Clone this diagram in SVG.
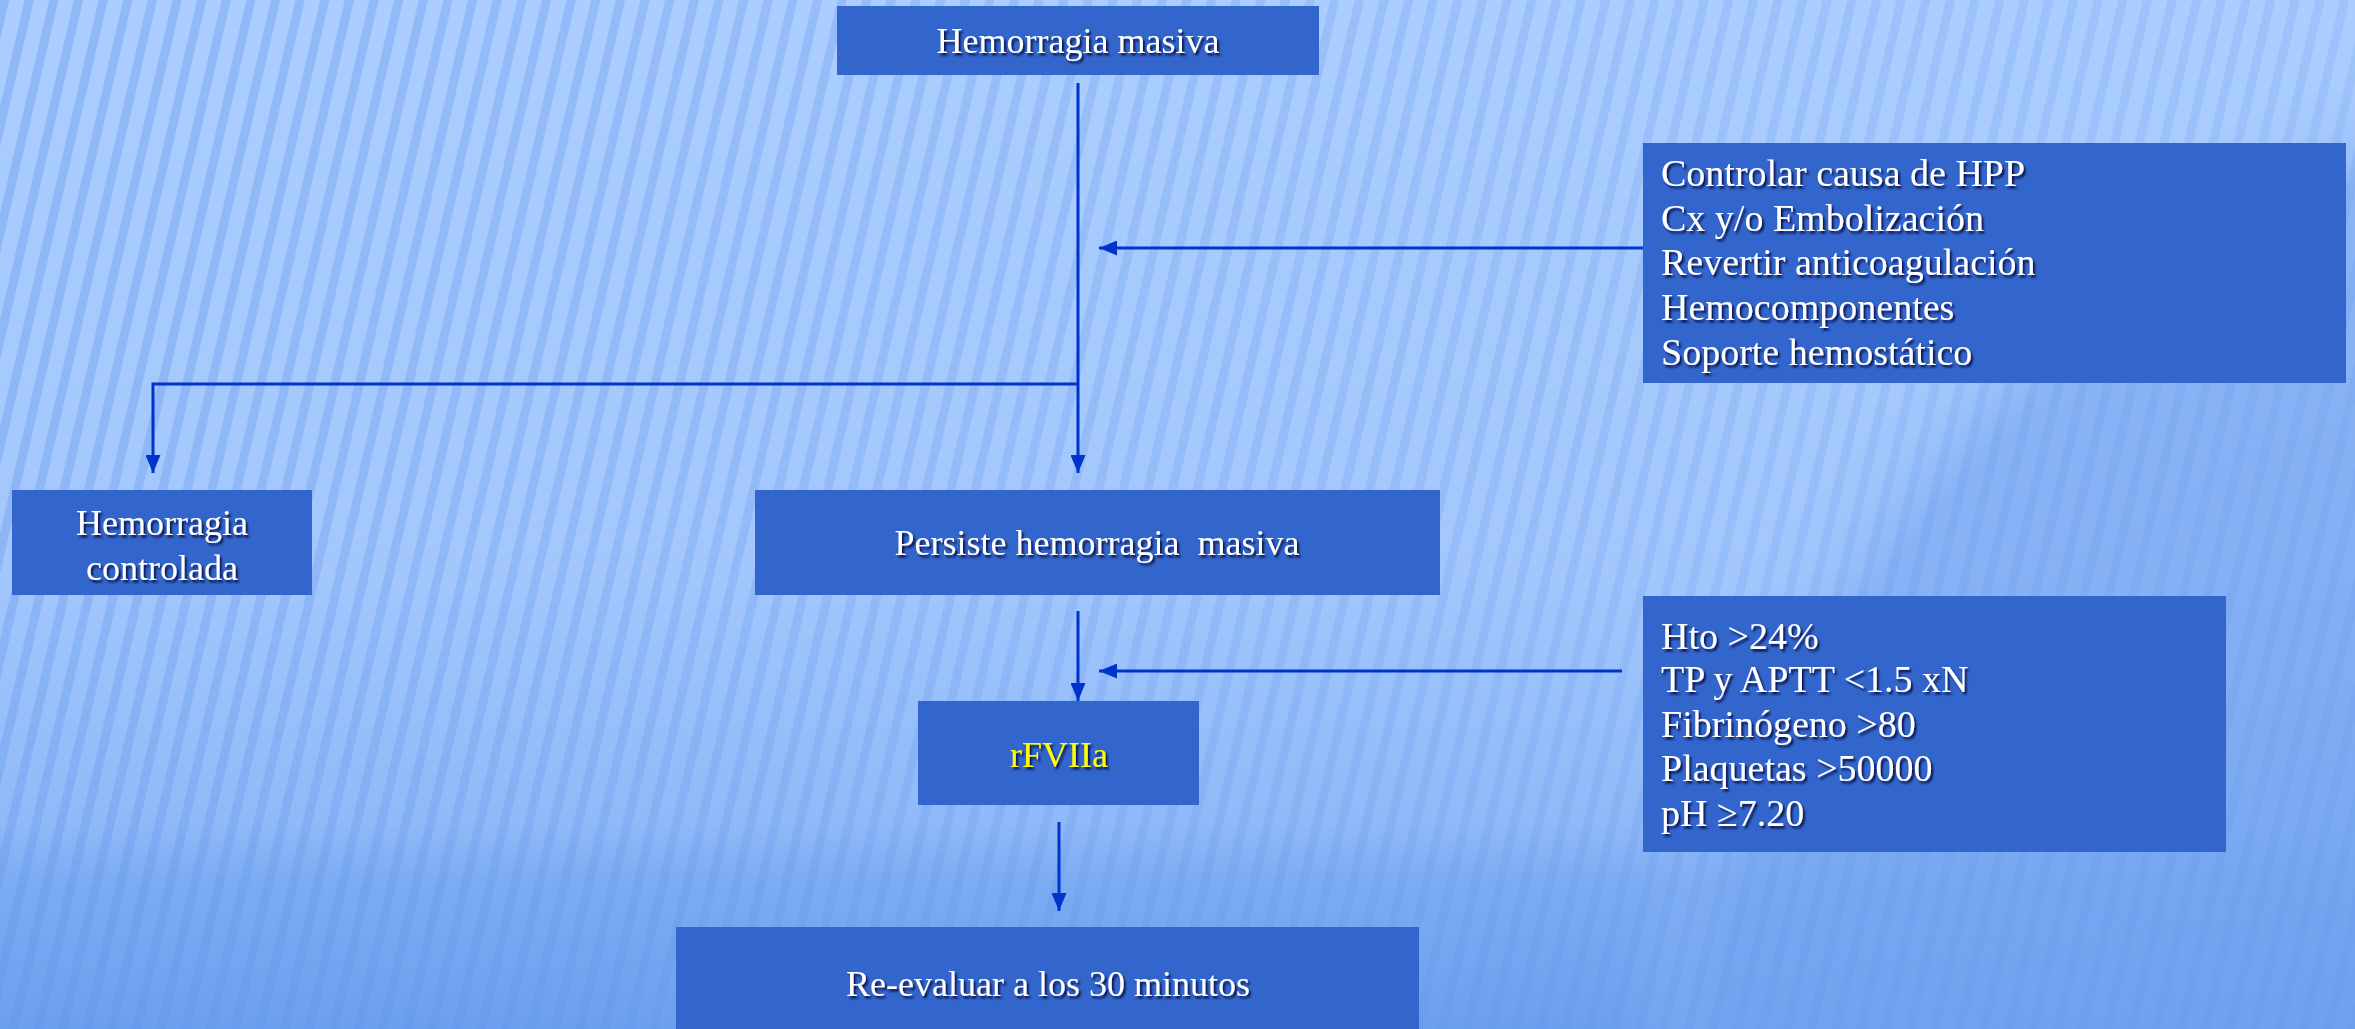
<svg xmlns="http://www.w3.org/2000/svg" width="2355" height="1029" viewBox="0 0 2355 1029">
  <defs>
    <linearGradient id="bg" x1="0" y1="0" x2="0" y2="1">
      <stop offset="0" stop-color="#ABCDFF"/>
      <stop offset="0.55" stop-color="#A3C7FD"/>
      <stop offset="0.8" stop-color="#8FB9F8"/>
      <stop offset="0.86" stop-color="#7BABF2"/>
      <stop offset="1" stop-color="#6C9FEE"/>
    </linearGradient>
    <radialGradient id="glowR" gradientUnits="userSpaceOnUse" cx="2750" cy="1150" r="1150">
      <stop offset="0" stop-color="#6C9FEE" stop-opacity="0.75"/>
      <stop offset="0.9" stop-color="#75A5F0" stop-opacity="0.6"/>
      <stop offset="0.96" stop-color="#8FB8F6" stop-opacity="0.2"/>
      <stop offset="1" stop-color="#8FB8F6" stop-opacity="0"/>
    </radialGradient>
    <pattern id="stripes" width="24" height="40" patternUnits="userSpaceOnUse" patternTransform="rotate(13)">
      <rect x="0" y="0" width="9" height="40" fill="#5E93E8" opacity="0.35"/>
    </pattern>
    <linearGradient id="fade" x1="0" y1="0" x2="1" y2="0.3">
      <stop offset="0" stop-color="#fff" stop-opacity="1"/>
      <stop offset="0.5" stop-color="#fff" stop-opacity="0.65"/>
      <stop offset="1" stop-color="#fff" stop-opacity="0.45"/>
    </linearGradient>
    <mask id="stripeMask">
      <rect x="0" y="0" width="2355" height="1029" fill="url(#fade)"/>
    </mask>
    <filter id="shadow" x="-10%" y="-30%" width="120%" height="160%">
      <feDropShadow dx="2" dy="2.5" stdDeviation="1" flood-color="#000033" flood-opacity="0.85"/>
    </filter>
    <marker id="arrow" viewBox="0 0 18 15" refX="18" refY="7.5" markerWidth="18" markerHeight="15" markerUnits="userSpaceOnUse" orient="auto">
      <path d="M0,0 L18,7.5 L0,15 Z" fill="#0033CC"/>
    </marker>
    <style>
      .box { fill: #3366CC; }
      .txt { font-family: "Liberation Serif", "Times New Roman", serif; font-size: 36px; fill: #FFFFFF; filter: url(#shadow); }
      .list { font-family: "Liberation Serif", "Times New Roman", serif; font-size: 38px; }
      .mid { text-anchor: middle; }
      .conn { stroke: #0033CC; stroke-width: 3; fill: none; }
    </style>
  </defs>

  <rect x="0" y="0" width="2355" height="1029" fill="url(#bg)"/>
  <rect x="0" y="0" width="2355" height="1029" fill="url(#glowR)"/>
  <rect x="0" y="0" width="2355" height="1029" fill="url(#stripes)" mask="url(#stripeMask)"/>

  <g id="connectors">
    <line class="conn" x1="1078" y1="83" x2="1078" y2="473" marker-end="url(#arrow)"/>
    <line class="conn" x1="1643" y1="248" x2="1099" y2="248" marker-end="url(#arrow)"/>
    <polyline class="conn" points="1078,384 153,384 153,473" marker-end="url(#arrow)"/>
    <line class="conn" x1="1078" y1="611" x2="1078" y2="701" marker-end="url(#arrow)"/>
    <line class="conn" x1="1622" y1="671" x2="1099" y2="671" marker-end="url(#arrow)"/>
    <line class="conn" x1="1059" y1="822" x2="1059" y2="911" marker-end="url(#arrow)"/>
  </g>

  <g id="node-hemorragia-masiva">
    <rect class="box" x="837" y="6" width="482" height="69"/>
    <text class="txt mid" x="1078" y="53">Hemorragia masiva</text>
  </g>

  <g id="node-medidas">
    <rect class="box" x="1643" y="143" width="703" height="240"/>
    <text class="txt list" x="1661" y="186">Controlar causa de HPP</text>
    <text class="txt list" x="1661" y="231">Cx y/o Embolización</text>
    <text class="txt list" x="1661" y="275">Revertir anticoagulación</text>
    <text class="txt list" x="1661" y="320">Hemocomponentes</text>
    <text class="txt list" x="1661" y="365">Soporte hemostático</text>
  </g>

  <g id="node-controlada">
    <rect class="box" x="12" y="490" width="300" height="105"/>
    <text class="txt mid" x="162" y="535">Hemorragia</text>
    <text class="txt mid" x="162" y="580">controlada</text>
  </g>

  <g id="node-persiste">
    <rect class="box" x="755" y="490" width="685" height="105"/>
    <text class="txt mid" x="1097" y="555" style="white-space:pre">Persiste hemorragia  masiva</text>
  </g>

  <g id="node-requisitos">
    <rect class="box" x="1643" y="596" width="583" height="256"/>
    <text class="txt list" x="1661" y="649">Hto &gt;24%</text>
    <text class="txt list" x="1661" y="692">TP y APTT &lt;1.5 xN</text>
    <text class="txt list" x="1661" y="737">Fibrinógeno &gt;80</text>
    <text class="txt list" x="1661" y="781">Plaquetas &gt;50000</text>
    <text class="txt list" x="1661" y="826">pH ≥7.20</text>
  </g>

  <g id="node-rfviia">
    <rect class="box" x="918" y="701" width="281" height="104"/>
    <text class="txt mid" x="1059" y="767" style="fill:#FFFF00">rFVIIa</text>
  </g>

  <g id="node-reevaluar">
    <rect class="box" x="676" y="927" width="743" height="102"/>
    <text class="txt mid" x="1048" y="996">Re-evaluar a los 30 minutos</text>
  </g>
</svg>
